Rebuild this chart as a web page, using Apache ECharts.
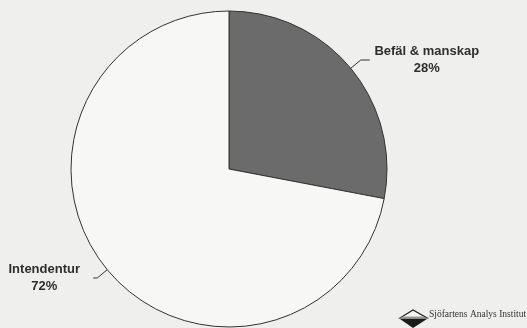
<!DOCTYPE html>
<html><head><meta charset="utf-8">
<script src="https://cdn.jsdelivr.net/npm/echarts@6/dist/echarts.min.js"></script>
<style>html,body{margin:0;padding:0;background:#efefed;}#c{width:527px;height:328px;}</style>
</head><body><div id="c"></div>
<script>
const categories = ['Befäl & manskap', 'Intendentur'];
const values = [28, 72];
const colors = ['#6b6b6b', '#f7f7f5'];
const logoText = 'Sjöfartens Analys Institut';

const chart = echarts.init(document.getElementById('c'), null, {renderer: 'canvas'});
const font = {fontFamily: 'Liberation Sans, Arial, sans-serif', fontSize: 13, fontWeight: 'bold', color: '#2e2e2e'};
const labelOpts = [
  {width: 108, distance: 3, length: 13, length2: 9},
  {width: 74, distance: 12, length: 13, length2: 4}
];
chart.setOption({
  backgroundColor: '#efefed',
  animation: false,
  series: [{
    type: 'pie',
    center: [229, 169],
    radius: 158,
    startAngle: 90,
    clockwise: true,
    avoidLabelOverlap: false,
    itemStyle: {borderColor: '#333', borderWidth: 1},
    label: {
      show: true,
      position: 'outside',
      formatter: p => '{a|' + p.name + '}\n{a|' + p.value + '%}'
    },
    labelLine: {show: true, smooth: false, lineStyle: {color: '#333', width: 1}},
    emphasis: {disabled: true},
    data: categories.map((c, i) => ({
      name: c,
      value: values[i],
      itemStyle: {color: colors[i]},
      label: {
        distanceToLabelLine: labelOpts[i].distance,
        rich: {a: Object.assign({width: labelOpts[i].width, align: 'center', lineHeight: 17}, font)}
      },
      labelLine: {length: labelOpts[i].length, length2: labelOpts[i].length2}
    }))
  }],
  graphic: [
    {type: 'polygon', shape: {points: [[400, 318], [413, 310], [427, 318]]}, style: {fill: '#f7f7f5', stroke: '#222', lineWidth: 1.2}},
    {type: 'polygon', shape: {points: [[403, 316.5], [423, 316.5], [427, 318], [400, 318]]}, style: {fill: '#999', stroke: null}},
    {type: 'polygon', shape: {points: [[400, 319], [427, 319], [413, 328]]}, style: {fill: '#1a1a1a', stroke: null}},
    {type: 'text', left: 429, top: 309.5, style: {text: logoText, font: '9.5px "Liberation Serif", "Times New Roman", serif', fill: '#333'}}
  ]
});
</script>
</body></html>
